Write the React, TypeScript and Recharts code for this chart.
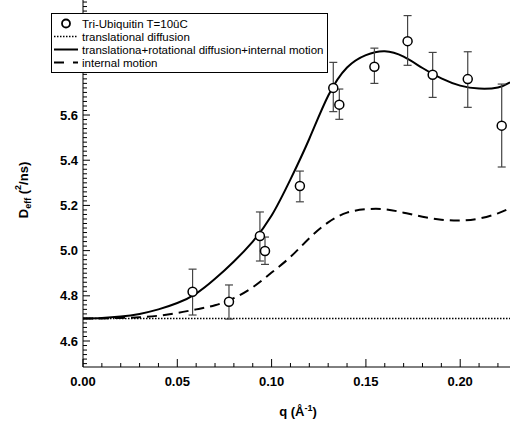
import { ComposedChart, Line, Scatter, ErrorBar, XAxis, YAxis } from "recharts";

// model curves
const modelQ = [0, 0.01, 0.02, 0.03, 0.04, 0.05, 0.06, 0.07, 0.08, 0.09, 0.1, 0.11, 0.12, 0.13, 0.14, 0.15, 0.16, 0.17, 0.18, 0.19, 0.2, 0.21, 0.22, 0.2264];
const fullModel = [4.7, 4.702, 4.708, 4.72, 4.74, 4.768, 4.81, 4.875, 4.952, 5.04, 5.155, 5.315, 5.495, 5.685, 5.81, 5.865, 5.882, 5.858, 5.808, 5.762, 5.73, 5.717, 5.722, 5.745];
const internalMotion = [4.7, 4.7, 4.702, 4.705, 4.712, 4.724, 4.74, 4.758, 4.79, 4.838, 4.903, 4.972, 5.055, 5.125, 5.168, 5.183, 5.183, 5.168, 5.15, 5.137, 5.133, 5.142, 5.165, 5.188];
const transQ = [0, 0.2264];
const translational = [4.7, 4.7];

// measured points
const pointQ = [0.0581, 0.0774, 0.0938, 0.0965, 0.115, 0.1327, 0.1359, 0.1545, 0.1721, 0.1854, 0.204, 0.222];
const pointD = [4.818, 4.774, 5.065, 4.998, 5.286, 5.72, 5.646, 5.814, 5.927, 5.778, 5.759, 5.553];
const errTop = [4.918, 4.848, 5.171, 5.06, 5.352, 5.833, 5.715, 5.896, 6.04, 5.877, 5.88, 5.737];
const errBottom = [4.715, 4.697, 4.954, 4.939, 5.216, 5.615, 5.581, 5.74, 5.82, 5.678, 5.634, 5.37];

const xMajorTicks = [0, 0.05, 0.1, 0.15, 0.2];
const yMajorTicks = [4.6, 4.8, 5.0, 5.2, 5.4, 5.6];

const font = "Arial, 'Liberation Sans', sans-serif";

const fullData = modelQ.map((q, i) => ({ q, d: fullModel[i] }));
const internalData = modelQ.map((q, i) => ({ q, d: internalMotion[i] }));
const transData = transQ.map((q, i) => ({ q, d: translational[i] }));
const pointData = pointQ.map((q, i) => ({
  q,
  d: pointD[i],
  err: [pointD[i] - errBottom[i], errTop[i] - pointD[i]],
}));

const xTicks: number[] = [];
for (let i = 0; i <= 22; i++) xTicks.push(i / 100);
const yTicks: number[] = [];
for (let i = 0; i <= 80; i++) yTicks.push(Math.round((4.5 + i * 0.02) * 100) / 100);

const isMajor = (list: number[], v: number) => list.some((t) => Math.abs(t - v) < 1e-6);

const XTick = (props: any) => {
  const { x, y, payload } = props;
  const major = isMajor(xMajorTicks, payload.value);
  return (
    <g>
      <line x1={x} x2={x} y1={y} y2={y - (major ? 8 : 4)} stroke="#000" strokeWidth={1} />
      {major && (
        <text x={x} y={y + 18.5} textAnchor="middle" fontFamily={font} fontWeight="bold" fontSize={13} fill="#000">
          {payload.value.toFixed(2)}
        </text>
      )}
    </g>
  );
};

const YTick = (props: any) => {
  const { x, y, payload } = props;
  const major = isMajor(yMajorTicks, payload.value);
  return (
    <g>
      <line x1={x} x2={x + (major ? 7 : 4)} y1={y} y2={y} stroke="#000" strokeWidth={1} />
      {major && (
        <text x={x - 5} y={y + 4.5} textAnchor="end" fontFamily={font} fontWeight="bold" fontSize={13} fill="#000">
          {payload.value.toFixed(1)}
        </text>
      )}
    </g>
  );
};

const XTitle = () => (
  <text x={298} y={416} textAnchor="middle" fontFamily={font} fontWeight="bold" fontSize={13} fill="#000">
    q (Å<tspan dy={-5} fontSize={9}>-1</tspan>
    <tspan dy={5}>)</tspan>
  </text>
);

const YTitle = () => (
  <text
    x={28}
    y={190}
    transform="rotate(-90, 28, 190)"
    textAnchor="middle"
    fontFamily={font}
    fontWeight="bold"
    fontSize={13}
    fill="#000"
  >
    D<tspan dy={3} fontSize={9}>eff</tspan>
    <tspan dy={-3}> (</tspan>
    <tspan dy={-7} fontSize={9}>2</tspan>
    <tspan dy={7}>/ns)</tspan>
  </text>
);

const Dot = (props: any) => (
  <circle cx={props.cx} cy={props.cy} r={4.5} fill="#fff" stroke="#000" strokeWidth={1.5} />
);

const legendItems = [
  { label: "Tri-Ubiquitin T=10ûC", kind: "circle" },
  { label: "translational diffusion", kind: "dotted" },
  { label: "translationa+rotational diffusion+internal motion", kind: "solid" },
  { label: "internal motion", kind: "dashed" },
];

const LegendSymbol = ({ kind }: { kind: string }) => (
  <svg width={28} height={13} style={{ display: "block" }}>
    {kind === "circle" && <circle cx={14} cy={6.5} r={4} fill="#fff" stroke="#000" strokeWidth={1.8} />}
    {kind === "dotted" && <line x1={2} x2={26} y1={6.5} y2={6.5} stroke="#000" strokeWidth={1.5} strokeDasharray="1.5 1.5" />}
    {kind === "solid" && <line x1={2} x2={26} y1={6.5} y2={6.5} stroke="#000" strokeWidth={2} />}
    {kind === "dashed" && <line x1={2} x2={26} y1={6.5} y2={6.5} stroke="#000" strokeWidth={2} strokeDasharray="10 9" />}
  </svg>
);

export default function App() {
  return (
    <div style={{ position: "relative", width: 510, height: 425, background: "#fff" }}>
      <style>{`body{margin:0}`}</style>
      <ComposedChart width={510} height={425} margin={{ top: 0, right: 0, left: 0, bottom: 0 }}>
        <XAxis
          dataKey="q"
          type="number"
          domain={[0, 0.2264]}
          allowDataOverflow
          ticks={xTicks}
          interval={0}
          tick={<XTick />}
          tickLine={false}
          tickSize={0}
          tickMargin={0}
          height={58}
          axisLine={{ stroke: "#000", strokeWidth: 1 }}
          label={{ content: XTitle }}
        />
        <YAxis
          dataKey="d"
          type="number"
          domain={[4.485, 6.109]}
          allowDataOverflow
          ticks={yTicks}
          interval={0}
          tick={<YTick />}
          tickLine={false}
          tickSize={0}
          tickMargin={0}
          width={83}
          axisLine={{ stroke: "#000", strokeWidth: 1 }}
          label={{ content: YTitle }}
        />
        <Line data={transData} dataKey="d" type="linear" stroke="#000" strokeWidth={1.5} strokeDasharray="1.5 1.5" dot={false} isAnimationActive={false} />
        <Line data={internalData} dataKey="d" type="natural" stroke="#000" strokeWidth={2} strokeDasharray="10 6" dot={false} isAnimationActive={false} />
        <Line data={fullData} dataKey="d" type="natural" stroke="#000" strokeWidth={2} dot={false} isAnimationActive={false} />
        <Scatter data={pointData} dataKey="d" shape={<Dot />} isAnimationActive={false}>
          <ErrorBar dataKey="err" direction="y" width={4} stroke="#444" strokeWidth={1.2} isAnimationActive={false} />
        </Scatter>
      </ComposedChart>
      <div
        style={{
          position: "absolute",
          left: 51,
          top: 13,
          width: 275,
          height: 55,
          border: "1px solid #000",
          background: "#fff",
          paddingTop: 3,
          boxSizing: "content-box",
          fontFamily: font,
          fontSize: 11.5,
          color: "#000",
        }}
      >
        {legendItems.map((it) => (
          <div key={it.label} style={{ display: "flex", alignItems: "center", height: 13, whiteSpace: "nowrap" }}>
            <LegendSymbol kind={it.kind} />
            <span style={{ marginLeft: 2 }}>{it.label}</span>
          </div>
        ))}
      </div>
    </div>
  );
}
